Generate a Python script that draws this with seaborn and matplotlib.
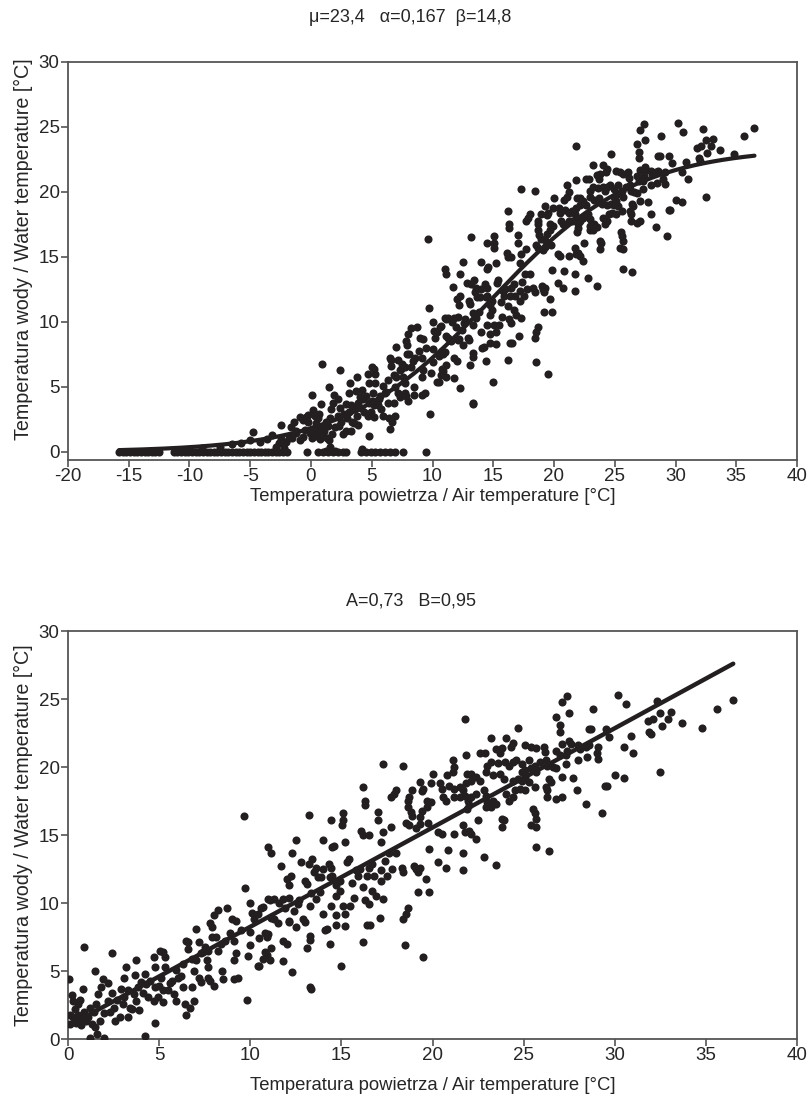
import numpy as np
import pandas as pd
import matplotlib
matplotlib.use('Agg')
import matplotlib.pyplot as plt
import seaborn as sns

# Parametry modeli (z tytułów wykresów)
MU, ALPHA, BETA = 23.4, 0.167, 14.8
A, B = 0.73, 0.95

# Punkty (temp. powietrza, temp. wody) odczytane z wykresu
# powietrze 0-10 °C
pts_0_10 = [
    (0.05, 4.4), (0.2, 3.2), (0.3, 2.8), (0.1, 1.8), (0.3, 1.6), (0.1, 1.1), (0.45, 1.2),
    (0.7, 1.0), (0.55, 1.8), (0.8, 1.6), (0.9, 6.8), (0.8, 3.7), (0.65, 2.9), (0.55, 2.6),
    (1.2, 2.3), (1.1, 1.6), (1.3, 1.1), (1.5, 0.9), (1.6, 0.4), (1.2, 0.1), (2.0, 0.1),
    (1.5, 5.0), (1.9, 4.4), (1.8, 3.8), (1.65, 3.3), (1.55, 2.6), (1.75, 1.35), (2.4, 6.3),
    (2.2, 4.1), (2.4, 3.4), (2.2, 2.8), (2.5, 2.3), (2.3, 2.0), (2.6, 1.35), (2.85, 1.6),
    (3.1, 4.5), (3.2, 5.3), (2.9, 3.7), (3.1, 3.1), (3.4, 2.3), (3.3, 1.6), (3.5, 2.2),
    (3.75, 5.8), (3.7, 4.7), (3.85, 3.8), (3.75, 2.8), (3.9, 2.1), (4.2, 0.25), (4.2, 4.8),
    (4.3, 4.05), (4.1, 3.4), (4.7, 6.0), (4.8, 5.3), (4.8, 3.8), (4.7, 2.8), (4.8, 1.2),
    (5.05, 6.5), (5.2, 6.4), (5.3, 5.3), (5.1, 4.5), (5.2, 3.6), (4.95, 3.1), (5.2, 2.7),
    (5.3, 6.0), (5.7, 4.3), (5.5, 3.6), (5.8, 3.3), (5.9, 2.8), (6.05, 4.5), (6.3, 3.8),
    (6.4, 2.6), (6.5, 7.2), (6.6, 7.1), (6.6, 6.6), (6.5, 1.8), (6.7, 2.3), (6.9, 2.8),
    (6.8, 3.8), (7.0, 8.1), (7.0, 5.8), (6.9, 5.0), (7.2, 7.1), (7.3, 6.3), (7.2, 4.5),
    (7.3, 4.2), (7.5, 6.8), (7.7, 6.5), (7.6, 5.8), (7.7, 5.3), (7.7, 4.5), (7.8, 4.3),
    (8.0, 3.9), (7.9, 7.5), (7.9, 8.2), (7.8, 8.5), (8.0, 9.1), (8.25, 9.5), (8.1, 7.5),
    (8.25, 6.5), (8.45, 5.0), (8.5, 4.4), (8.7, 9.6), (9.0, 8.8), (9.2, 8.7), (9.1, 7.2),
    (9.2, 6.3), (9.1, 5.8), (9.1, 4.4), (9.35, 4.5), (9.7, 11.1), (9.8, 2.9), (10.0, 10.0),
    (10.1, 9.3), (10.2, 8.8), (10.0, 7.9), (10.0, 6.9), (9.9, 6.1), (10.4, 5.4), (10.5, 7.4),
    (0.4, 2.2), (0.9, 2.0), (1.0, 1.3), (1.4, 2.0), (0.6, 1.4), (2.0, 1.9), (2.7, 2.9),
    (3.0, 2.6), (4.0, 4.2), (4.5, 4.3), (5.6, 4.1), (6.2, 4.6), (3.3, 3.6), (3.6, 3.3),
    (4.4, 3.1), (5.0, 3.9), (5.9, 5.1), (6.3, 5.5), (6.8, 5.9), (7.4, 6.4), (8.4, 7.0),
    (8.9, 7.8), (9.5, 8.0), (8.6, 7.2),
]

# powietrze 10-18 °C
pts_10_18 = [
    (16.2, 18.5), (16.3, 17.5), (16.3, 17.2), (13.2, 16.5), (9.65, 16.4), (14.45, 16.1),
    (15.1, 16.6), (15.1, 16.1), (15.05, 15.7), (17.0, 16.7), (17.0, 16.1), (17.7, 17.8),
    (17.9, 18.0), (18.0, 18.3), (16.1, 15.3), (16.2, 15.0), (16.5, 15.0), (17.3, 15.2),
    (17.2, 14.5), (17.7, 15.6), (14.0, 14.6), (14.6, 14.2), (14.5, 14.1), (15.2, 14.5),
    (12.5, 14.6), (11.0, 14.1), (11.15, 13.7), (12.3, 13.7), (11.7, 12.7), (12.8, 13.0),
    (13.2, 12.9), (13.4, 13.2), (13.6, 12.6), (14.0, 12.5), (14.3, 12.9), (14.45, 12.6),
    (12.0, 11.8), (12.25, 12.0), (12.15, 11.3), (13.0, 11.6), (13.1, 11.4), (13.5, 12.3),
    (13.7, 11.9), (13.9, 11.9), (14.4, 11.9), (14.5, 12.0), (14.9, 11.6), (14.7, 11.3),
    (14.9, 10.9), (15.3, 13.0), (15.4, 13.2), (15.8, 12.4), (16.0, 12.5), (16.5, 12.6),
    (16.7, 12.9), (16.4, 12.0), (15.9, 12.0), (17.2, 12.4), (17.4, 13.1), (17.6, 13.7),
    (18.0, 13.7), (17.8, 12.5), (17.2, 11.6), (16.7, 10.9), (16.9, 10.5), (17.3, 10.3),
    (16.2, 11.2), (16.3, 10.2), (16.5, 9.9), (15.7, 10.4), (15.5, 9.8), (15.1, 9.8),
    (15.2, 9.2), (14.7, 10.5), (14.45, 9.8), (14.7, 9.1), (14.0, 9.2), (14.2, 8.1),
    (14.1, 8.0), (13.3, 9.8), (13.35, 10.7), (12.7, 10.2), (12.6, 9.9), (12.1, 10.4),
    (11.8, 10.3), (11.6, 10.0), (11.3, 10.3), (11.1, 10.2), (11.0, 10.3), (10.6, 9.6),
    (10.7, 9.7), (10.4, 9.2), (11.15, 8.9), (11.3, 8.8), (12.15, 8.7), (12.1, 8.6),
    (12.9, 8.8), (12.5, 8.2), (13.0, 8.6), (13.3, 7.6), (13.3, 7.3), (13.1, 6.7),
    (14.4, 7.0), (14.7, 8.4), (15.2, 8.3), (16.2, 7.1), (16.4, 8.4), (16.55, 8.4),
    (17.1, 8.9), (10.8, 7.8), (11.0, 7.7), (10.9, 7.5), (11.8, 7.2), (12.0, 7.0),
    (11.15, 6.7), (10.9, 6.2), (10.7, 5.9), (11.1, 5.8), (10.8, 6.4), (11.8, 5.7),
    (12.3, 4.9), (13.3, 3.8), (13.35, 3.7), (15.0, 5.4), (10.5, 5.4), (11.5, 8.5),
    (12.4, 9.4), (13.8, 10.8), (15.6, 11.5), (16.8, 12.0), (17.5, 12.0), (13.6, 10.3),
    (11.9, 9.6),
]

# powietrze 18-26 °C
pts_18_26 = [
    (17.3, 20.2), (18.4, 20.1), (21.8, 23.5), (24.7, 22.9), (23.2, 22.1), (24.05, 22.1),
    (23.5, 21.3), (23.8, 21.4), (23.7, 21.0), (24.3, 21.5), (24.4, 21.8), (25.1, 21.6),
    (25.4, 21.5), (25.7, 21.4), (21.85, 20.9), (22.6, 21.0), (22.9, 21.0), (21.1, 20.5),
    (23.0, 20.1), (23.2, 20.4), (23.6, 20.3), (24.0, 20.4), (24.2, 20.1), (24.4, 20.4),
    (24.6, 20.5), (24.9, 20.2), (25.3, 20.5), (25.6, 20.1), (25.9, 20.4), (20.0, 19.5),
    (19.9, 18.8), (20.8, 19.4), (21.1, 19.6), (21.2, 20.0), (21.9, 19.5), (22.1, 19.5),
    (22.1, 19.0), (21.85, 18.8), (22.4, 19.3), (22.6, 19.0), (22.95, 19.6), (23.3, 19.4),
    (23.7, 19.5), (23.95, 19.1), (24.4, 19.0), (24.7, 19.1), (24.9, 19.6), (25.1, 19.8),
    (25.4, 19.9), (25.7, 19.6), (24.9, 19.0), (25.1, 19.3), (25.3, 18.9), (25.6, 18.5),
    (25.1, 18.3), (20.4, 18.8), (20.5, 18.4), (20.9, 18.6), (21.2, 18.4), (21.5, 18.5),
    (21.7, 18.3), (19.5, 18.4), (19.4, 18.2), (19.3, 18.9), (18.9, 18.3), (18.7, 17.8),
    (18.65, 17.5), (19.7, 17.5), (19.9, 17.4), (19.7, 17.05), (20.6, 17.8), (20.75, 17.5),
    (21.2, 17.8), (21.5, 17.8), (21.8, 17.9), (21.95, 17.5), (22.0, 17.2), (21.9, 16.9),
    (22.1, 17.8), (22.4, 18.0), (22.8, 18.3), (22.95, 17.9), (23.0, 17.4), (23.3, 17.5),
    (23.5, 17.3), (24.05, 18.0), (24.2, 17.5), (24.4, 17.8), (24.5, 18.3), (24.8, 18.4),
    (25.5, 16.9), (25.6, 16.6), (25.7, 16.2), (25.4, 15.7), (25.7, 15.6), (25.7, 14.1),
    (18.65, 17.05), (18.8, 16.7), (18.9, 16.4), (19.4, 16.8), (19.3, 16.3), (18.55, 15.9),
    (18.7, 15.7), (19.3, 15.8), (19.1, 15.5), (19.75, 15.9), (20.5, 15.1), (20.3, 15.2),
    (21.2, 15.1), (21.7, 15.7), (21.8, 15.2), (22.0, 15.3), (22.1, 15.1), (22.4, 14.7),
    (22.5, 16.1), (22.95, 17.05), (23.2, 17.05), (23.8, 16.2), (23.9, 16.1), (23.8, 15.6),
    (22.8, 13.4), (23.5, 12.8), (21.7, 13.7), (21.7, 12.4), (20.75, 12.6), (20.3, 13.0),
    (19.8, 14.0), (20.85, 13.9), (19.0, 12.75), (19.1, 12.5), (19.3, 12.6), (19.2, 12.3),
    (19.65, 11.8), (19.2, 10.8), (19.8, 10.8), (18.3, 12.6), (18.4, 12.3), (18.65, 9.6),
    (18.55, 9.2), (18.4, 8.8), (18.5, 6.9), (19.5, 6.0),
]

# powietrze > 26 °C
pts_26_37 = [
    (27.4, 25.2), (27.1, 24.8), (30.2, 25.3), (30.6, 24.6), (28.8, 24.3), (27.5, 24.0),
    (32.3, 24.85), (32.5, 24.0), (33.1, 24.05), (31.8, 23.4), (32.1, 23.55), (32.6, 23.0),
    (32.9, 23.5), (26.8, 23.7), (27.0, 23.1), (27.0, 22.6), (28.6, 22.8), (28.7, 22.8),
    (29.5, 22.8), (29.7, 22.2), (30.9, 22.3), (31.9, 22.6), (32.0, 22.4), (27.1, 21.7),
    (27.5, 21.9), (27.6, 21.7), (28.0, 21.6), (28.1, 21.35), (28.4, 21.5), (28.6, 21.6),
    (29.1, 21.5), (29.0, 21.0), (29.1, 20.6), (30.5, 21.5), (31.0, 21.0), (27.4, 21.2),
    (27.3, 20.85), (27.35, 20.2), (28.0, 20.5), (28.5, 20.7), (26.8, 21.2), (27.0, 20.85),
    (26.25, 20.5), (26.3, 20.1), (26.6, 20.0), (26.8, 19.9), (26.1, 21.5), (26.2, 21.1),
    (27.1, 19.3), (27.7, 19.2), (26.4, 19.1), (26.5, 18.9), (26.25, 18.5), (26.3, 18.3),
    (29.45, 18.6), (29.55, 18.6), (30.0, 19.4), (30.5, 19.2), (32.5, 19.6), (27.95, 18.3),
    (28.4, 17.3), (29.3, 16.6), (26.8, 17.65), (27.1, 17.8), (26.3, 17.8), (26.4, 13.85),
    (33.7, 23.2), (34.8, 22.9), (35.6, 24.3), (36.5, 24.95),
]

# powietrze < 0 °C (tylko wykres górny)
pts_neg = [
    (-4.8, 1.5), (-2.45, 2.1), (-1.63, 1.95), (-1.36, 2.33), (-0.94, 2.72), (-0.4, 2.72),
    (-0.26, 2.33), (-1.22, 1.44), (-0.67, 1.18), (-0.94, 0.92), (-0.53, 1.7), (-0.12, 1.44),
    (-2.04, 0.8), (-2.6, 0.67), (-1.77, 1.05), (-0.67, 2.46), (-0.26, 2.85), (-1.6, 1.05),
    (-1.2, 1.6), (-6.5, 0.6), (-5.8, 0.7), (-5.0, 0.9), (-4.2, 0.8), (-3.6, 1.0),
    (-3.2, 1.3), (-2.9, 0.4), (-2.5, 1.0), (-2.2, 0.3), (-9.0, 0.3), (-7.5, 0.4),
]

# temperatura wody = 0 °C (tylko wykres górny)
air_zero = [
    -15.8, -15.5, -15.2, -14.9, -14.6, -14.3, -14.0, -13.7, -13.4, -13.1, -12.8, -12.5,
    -11.3, -11.0, -10.7, -10.4, -10.1, -9.8, -9.5, -9.2, -8.9, -8.6, -8.3, -8.0, -7.7,
    -7.4, -7.1, -6.8, -6.5, -6.2, -5.9, -5.6, -5.3, -5.0, -4.7, -4.4, -4.1, -3.8, -3.5,
    -3.2, -2.9, -2.6, -2.3, -2.0, -0.3, 0.6, 1.0, 1.4, 1.8, 2.2, 2.6, 2.9, 4.1, 4.5,
    4.9, 5.3, 5.7, 6.1, 6.5, 6.9, 7.6, 9.5,
]

main_df = pd.DataFrame(pts_0_10 + pts_10_18 + pts_18_26 + pts_26_37, columns=['air', 'water'])
neg_df = pd.DataFrame(pts_neg, columns=['air', 'water'])
zero_df = pd.DataFrame({'air': air_zero, 'water': 0.0})
top_df = pd.concat([main_df, neg_df, zero_df], ignore_index=True)
bottom_df = main_df

# krzywa logistyczna i prosta regresji
x_curve = np.linspace(top_df['air'].min(), top_df['air'].max(), 400)
curve_df = pd.DataFrame({'air': x_curve, 'water': MU / (1 + np.exp(ALPHA * (BETA - x_curve)))})
x_line = np.array([0.0, bottom_df['air'].max()])
line_df = pd.DataFrame({'air': x_line, 'water': A * x_line + B})

sns.set_style('ticks')
plt.rcParams['font.family'] = ['Liberation Sans Narrow', 'Liberation Sans', 'DejaVu Sans']
plt.rcParams['axes.unicode_minus'] = False

ink = '#231f20'
frame = '#555555'

fig = plt.figure(figsize=(8.09, 11.03), dpi=100)
ax1 = fig.add_axes([68 / 809, 1 - 460 / 1103, 729 / 809, 398 / 1103])
ax2 = fig.add_axes([68 / 809, 1 - 1039 / 1103, 729 / 809, 408 / 1103])

sns.scatterplot(data=top_df, x='air', y='water', ax=ax1, color=ink, s=34,
                linewidth=0, clip_on=False, zorder=3)
sns.lineplot(data=curve_df, x='air', y='water', ax=ax1, color=ink, linewidth=3, zorder=4)
ax1.set_xlim(-20, 40)
ax1.set_ylim(-0.62, 30)
ax1.set_xticks(range(-20, 41, 5))
ax1.set_title('μ=23,4   α=0,167  β=14,8', fontsize=13, pad=29, x=0.47)

sns.scatterplot(data=bottom_df, x='air', y='water', ax=ax2, color=ink, s=34,
                linewidth=0, zorder=3)
sns.lineplot(data=line_df, x='air', y='water', ax=ax2, color=ink, linewidth=3.2, zorder=4)
ax2.set_xlim(0, 40)
ax2.set_ylim(0, 30)
ax2.set_xticks(range(0, 41, 5))
ax2.set_title('A=0,73   B=0,95', fontsize=13, pad=18, x=0.47)

for ax in (ax1, ax2):
    ax.set_yticks(range(0, 31, 5))
    ax.tick_params(direction='out', length=5, width=1.2, color=frame, labelsize=13.5, pad=1)
    for sp in ax.spines.values():
        sp.set_visible(True)
        sp.set_color(frame)
        sp.set_linewidth(1.3)

xlab = 'Temperatura powietrza / Air temperature [°C]'
ylab = 'Temperatura wody / Water temperature [°C]'
ax1.set_xlabel(xlab, fontsize=13.3, labelpad=2)
ax2.set_xlabel(xlab, fontsize=13.3, labelpad=9)
ax1.set_ylabel(ylab, fontsize=14.2, labelpad=4, y=0.53)
ax2.set_ylabel(ylab, fontsize=14.2, labelpad=4)

fig.savefig('out.png', dpi=100, facecolor='white')
